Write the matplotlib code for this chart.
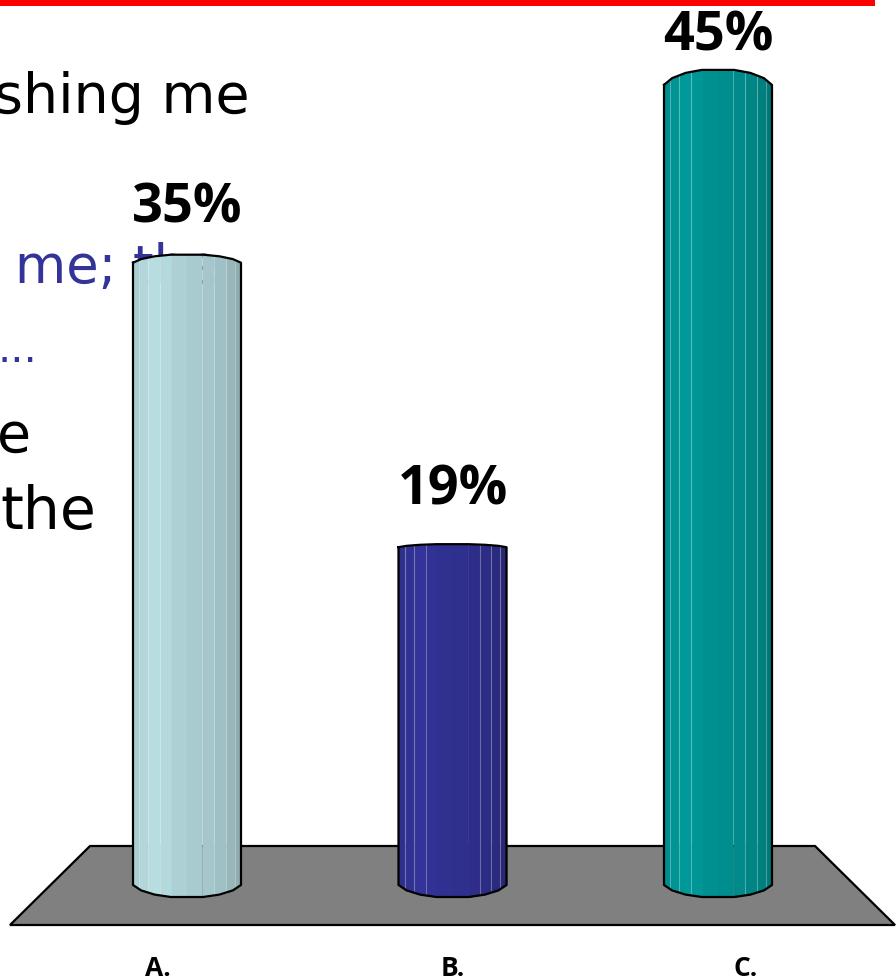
import numpy as np
import matplotlib
matplotlib.use("Agg")
import matplotlib.pyplot as plt
from matplotlib.patches import Polygon
from matplotlib.colors import to_rgb

# chart data
categories = ["A.", "B.", "C."]
values = [35, 19, 45]
value_labels = ["35%", "19%", "45%"]
bar_colors = ["#b7dde1", "#333399", "#009999"]

# the slide text the chart sits on top of
slide_text = ["shing me", "me; the", "...", "e", "the"]
slide_text_colors = ["black", "#333399", "#333399", "black", "black"]

# pixel <-> data scale of the picture
W, H = 896, 980
x0_px, dx_px = 187, 265.5
y0_px, dy_px = 885, 17.78
half_w = 54 / dx_px


def px_x(p):
    return (p - x0_px) / dx_px


def px_y(p):
    return (y0_px - p) / dy_px


fig = plt.figure(figsize=(W / 100, H / 100), dpi=100)
ax = fig.add_axes([0, 0, 1, 1])
ax.set_xlim(px_x(0), px_x(W))
ax.set_ylim(px_y(H), px_y(0))
ax.axis("off")

# red rule at the top of the slide
ax.fill_between([px_x(0), px_x(875)], px_y(0), px_y(6), color="#ff0000", lw=0, zorder=1)

# background slide text, cut by the picture edge
text_pos = [(-6, 98), (15, 268), (-2, 350), (-3, 437), (0, 512)]
text_size = [40, 38, 30, 40, 42]
for s, c, (tx, ty), fs in zip(slide_text, slide_text_colors, text_pos, text_size):
    ax.text(px_x(tx), px_y(ty), s, color=c, fontsize=fs, family="DejaVu Sans",
            ha="left", va="center", zorder=1, clip_on=True)

# floor
floor = Polygon([(px_x(10), px_y(925)), (px_x(90), px_y(846)),
                 (px_x(815), px_y(846)), (px_x(895), px_y(925))],
                closed=True, facecolor="#808080", edgecolor="black", lw=1.6, zorder=2)
ax.add_patch(floor)

# outline profile across a cylinder, fraction of half width and of the cap height
prof_u = np.array([-1, -0.85, -0.6, -0.3, 0.3, 0.6, 0.85, 1])
prof_v = np.array([0, 0.45, 0.8, 1, 1, 0.8, 0.45, 0])
strip_edges = np.array([-1, -0.88, -0.72, -0.5, -0.28, 0, 0.28, 0.5, 0.72, 0.88, 1])
strip_shade = [0.93, 0.97, 1.0, 0.98, 0.94, 0.92, 0.9, 0.87, 0.83, 0.78]
line_at = [-0.88, -0.72, -0.5, 0.5, 0.72, 0.88]
cap_heights = [8, 3, 15]
label_lift = [54, 57, 48]
cat_shift = [-29, 0, 28]

for i, (v, col) in enumerate(zip(values, bar_colors)):
    rgb = np.array(to_rgb(col))
    cap = cap_heights[i] / dy_px
    drop = 12 / dy_px
    for a, b, sh in zip(strip_edges[:-1], strip_edges[1:], strip_shade):
        uu = np.linspace(a, b, 6)
        top = v + cap * np.interp(uu, prof_u, prof_v)
        low = -drop * np.interp(uu, prof_u, prof_v)
        ax.fill_between(i + uu * half_w, low, top, color=rgb * sh, lw=0.3, zorder=3)
    for u in line_at:
        top = v + cap * np.interp(u, prof_u, prof_v)
        ax.plot([i + u * half_w] * 2, [-drop * np.interp(u, prof_u, prof_v), top],
                color="white", alpha=0.3, lw=0.8, zorder=4)
    # outline
    xs = i + prof_u * half_w
    ox = np.r_[xs, xs[::-1], xs[0]]
    oy = np.r_[v + cap * prof_v, (-drop * prof_v)[::-1], v]
    ax.plot(ox, oy, color="black", lw=1.6, zorder=5, solid_joinstyle="round")
    ax.text(i, v + label_lift[i] / dy_px, value_labels[i], fontsize=39,
            fontweight="bold", family="Open Sans", ha="center", va="center", zorder=6)
    ax.text(i + cat_shift[i] / dx_px, px_y(968), categories[i], fontsize=19, fontweight="bold",
            family="Open Sans", ha="center", va="center", zorder=6)

fig.savefig("out.png", dpi=100, facecolor="white")
